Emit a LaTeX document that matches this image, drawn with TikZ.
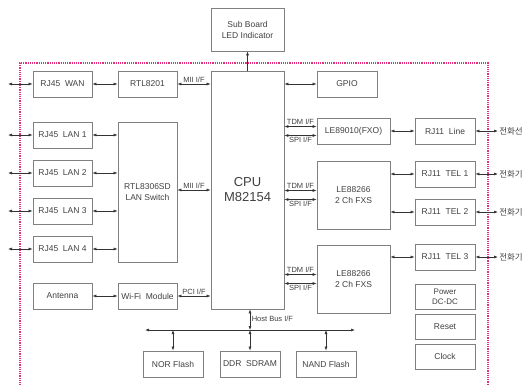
\documentclass[tikz,border=0pt]{standalone}
\usepackage{xcolor}
\usepackage{fontspec}
\setmainfont{Liberation Sans}
\newfontfamily\krfont{Noto Sans CJK KR}
\usepackage{tikz}
\usetikzlibrary{arrows.meta, positioning}
\definecolor{boxgray}{HTML}{808080}
\definecolor{txtgray}{HTML}{404040}
\definecolor{borderpink}{HTML}{E0307A}
\tikzstyle{box} = [draw=boxgray, line width=0.8pt, minimum width=59pt, minimum height=26pt, inner sep=1pt, align=center, text=txtgray, font=\fontsize{8.5}{11}\selectfont]
\tikzstyle{biarrow} = [{Latex[length=4pt,width=3pt]}-{Latex[length=4pt,width=3pt]}, line width=0.6pt, draw=black!80]
\tikzstyle{uniarrow} = [-{Latex[length=4pt,width=3pt]}, line width=0.6pt, draw=black!80]
\tikzstyle{ifl} = [font=\fontsize{7.5}{8}\selectfont, text=txtgray, inner sep=1.5pt]
\tikzstyle{kr} = [font=\fontsize{8.5}{10}\selectfont\krfont, text=txtgray, right, inner sep=1pt]

\begin{document}
\begin{tikzpicture}[x=1pt, y=-1pt]
    \useasboundingbox (0,0) rectangle (527,384);

    % Board outline
    \draw[borderpink, line width=1.2pt, densely dotted] (20,392) -- (20,63) -- (488,63) -- (488,392);

    \coordinate (extL) at (8,0);
    \coordinate (extR) at (498,0);

    % CPU and sub board
    \node[box, minimum width=73pt, minimum height=238pt, font=\fontsize{13}{15}\selectfont] (cpu) at (247.5,190) {CPU\\M82154};
    \node[box, minimum width=73pt, minimum height=43pt] (subb) at (247.5,29.5) {Sub Board\\LED Indicator};
    \draw[uniarrow] (cpu.north) -- (subb.south);

    % WAN
    \node[box] (wan) at (62.5,84) {RJ45~ WAN};
    \node[box] (rtl8201) at (147.5,84) {RTL8201};
    \node[box, minimum width=60pt] (gpio) at (347,84) {GPIO};
    \draw[biarrow] (wan.west -| extL) -- (wan.west);
    \draw[biarrow] (wan.east) -- (rtl8201.west);
    \draw[biarrow] (rtl8201.east) -- (rtl8201.east -| cpu.west) node[ifl, midway, above] (mii1) {MII I/F};
    \draw[biarrow] (gpio.west -| cpu.east) -- (gpio.west);

    % LAN switch
    \node[box, minimum height=140pt] (lansw) at (147.5,192) {RTL8306SD\\LAN Switch};
    \foreach \n/\y in {1/135, 2/173, 3/211, 4/249} {
        \node[box] (lan\n) at (62.5,\y) {RJ45~ LAN \n};
        \draw[biarrow] (lan\n.west -| extL) -- (lan\n.west);
        \draw[biarrow] (lan\n.east) -- (lan\n.east -| lansw.west);
    }
    \coordinate (miiy) at (0,190);
    \draw[biarrow] (miiy -| lansw.east) -- (miiy -| cpu.west) node[ifl, midway, above] (mii2) {MII I/F};

    % Wi-Fi
    \node[box] (ant) at (62.5,296) {Antenna};
    \node[box] (wifi) at (147.5,296) {Wi-Fi~ Module};
    \draw[biarrow] (ant.east) -- (wifi.west);
    \draw[biarrow] (wifi.east) -- (wifi.east -| cpu.west) node[ifl, midway, above] (pci) {PCI I/F};

    % Voice
    \node[box, minimum width=73pt] (fxo) at (353.5,131) {LE89010(FXO)};
    \node[box, minimum width=73pt, minimum height=68pt] (fxs1) at (353.5,195) {LE88266\\2 Ch FXS};
    \node[box, minimum width=73pt, minimum height=68pt] (fxs2) at (353.5,279) {LE88266\\2 Ch FXS};
    \foreach \c in {fxo, fxs1, fxs2} {
        \draw[biarrow] ([yshift=4.5pt]\c.west -| cpu.east) -- ([yshift=4.5pt]\c.west) node[ifl, midway, above] (tdm\c) {TDM I/F};
        \draw[biarrow] ([yshift=-4.5pt]\c.west -| cpu.east) -- ([yshift=-4.5pt]\c.west) node[ifl, midway, below] (spi\c) {SPI I/F};
    }
    \node[box, minimum width=60pt] (line) at (445,131) {RJ11~ Line};
    \node[box, minimum width=60pt] (tel1) at (445,174) {RJ11~ TEL 1};
    \node[box, minimum width=60pt] (tel2) at (445,212) {RJ11~ TEL 2};
    \node[box, minimum width=60pt] (tel3) at (445,257) {RJ11~ TEL 3};
    \draw[biarrow] (fxo.east |- line.west) -- (line.west);
    \draw[biarrow] (fxs1.east |- tel1.west) -- (tel1.west);
    \draw[biarrow] (fxs1.east |- tel2.west) -- (tel2.west);
    \draw[biarrow] (fxs2.east |- tel3.west) -- (tel3.west);
    \draw[biarrow] (line.east) -- (line.east -| extR) node[kr] (krline) {전화선};
    \foreach \t in {tel1, tel2, tel3} {
        \draw[biarrow] (\t.east) -- (\t.east -| extR) node[kr] (kr\t) {전화기};
    }

    % Misc blocks
    \node[box, minimum width=60pt, minimum height=25pt, font=\fontsize{8}{10}\selectfont] (pwr) at (445,296.5) {Power\\DC-DC};
    \node[box, minimum width=60pt, minimum height=25pt] (reset) at (445,326.5) {Reset};
    \node[box, minimum width=60pt, minimum height=25pt] (clock) at (445,356.5) {Clock};

    % Host bus
    \node[box, minimum width=60pt] (nor) at (173,364) {NOR Flash};
    \node[box, minimum width=60pt] (ddr) at (250,364) {DDR~ SDRAM};
    \node[box, minimum width=60pt] (nand) at (326,364) {NAND Flash};
    \coordinate (busL) at (145,330);
    \coordinate (busR) at (355,330);
    \draw[biarrow] (busL) -- (busR);
    \draw[biarrow] (cpu.south -| ddr.north) -- (busL -| ddr.north) node[ifl, pos=0.45, right] (hbus) {Host Bus I/F};
    \foreach \m in {nor, ddr, nand} {
        \draw[biarrow] (busL -| \m.north) -- (\m.north);
    }
\end{tikzpicture}
\end{document}
